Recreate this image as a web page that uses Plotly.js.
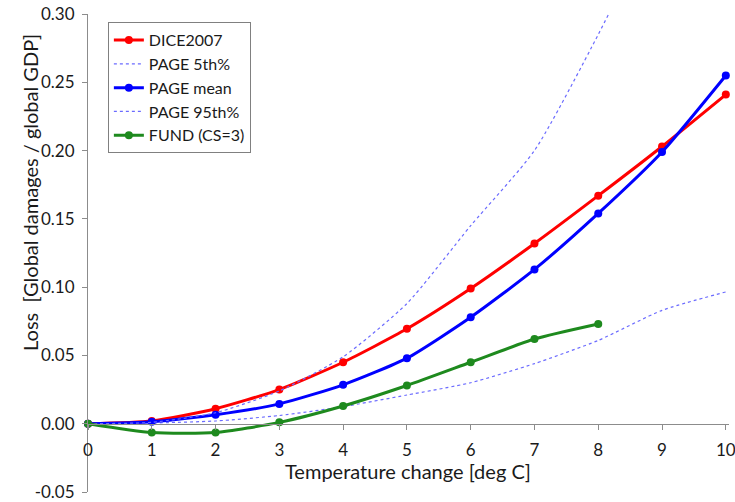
<!DOCTYPE html>
<html>
<head>
<meta charset="utf-8">
<script src="https://cdn.plot.ly/plotly-3.0.1.min.js"></script>
<style>html,body{margin:0;padding:0;background:#fff;}#chart{width:735px;height:502px;}</style>
</head>
<body>
<div id="chart"></div>
<script>
var temps = [0, 1, 2, 3, 4, 5, 6, 7, 8, 9, 10];
var dice2007 = [0, 0.002, 0.011, 0.025, 0.045, 0.0695, 0.099, 0.132, 0.167, 0.203, 0.241];
var page5 = [0, 0.0005, 0.002, 0.006, 0.0125, 0.021, 0.030, 0.044, 0.061, 0.083, 0.0965];
var pageMean = [0, 0.0015, 0.0065, 0.0145, 0.0285, 0.048, 0.078, 0.113, 0.154, 0.199, 0.255];
var page95 = [0, 0.001, 0.008, 0.024, 0.049, 0.088, 0.145, 0.200, 0.285, 0.38, 0.48];
var fundTemps = [0, 1, 2, 3, 4, 5, 6, 7, 8];
var fund = [0, -0.0065, -0.0065, 0.001, 0.013, 0.028, 0.045, 0.062, 0.073];
var yTicks = [-0.05, 0, 0.05, 0.10, 0.15, 0.20, 0.25, 0.30];
var xTicks = [0, 1, 2, 3, 4, 5, 6, 7, 8, 9, 10];

var FONT = 'Lato, "Open Sans", sans-serif';
var dotCol = '#6b6bff';

var traces = [
  {x: temps, y: dice2007, name: 'DICE2007', mode: 'lines+markers',
   line: {color: '#ff0000', width: 3, shape: 'spline', smoothing: 0.6},
   marker: {color: '#ff0000', size: 8}, cliponaxis: false},
  {x: temps, y: page5, name: 'PAGE 5th%', mode: 'lines',
   line: {color: dotCol, width: 1.2, dash: 'dot', shape: 'spline', smoothing: 0.6}},
  {x: temps, y: pageMean, name: 'PAGE mean', mode: 'lines+markers',
   line: {color: '#0000ff', width: 3, shape: 'spline', smoothing: 0.6},
   marker: {color: '#0000ff', size: 8}, cliponaxis: false},
  {x: temps, y: page95, name: 'PAGE 95th%', mode: 'lines',
   line: {color: dotCol, width: 1.2, dash: 'dot', shape: 'spline', smoothing: 0.6}},
  {x: fundTemps, y: fund, name: 'FUND (CS=3)', mode: 'lines+markers',
   line: {color: '#1e8a1e', width: 3, shape: 'spline', smoothing: 0.6},
   marker: {color: '#1e8a1e', size: 8}, cliponaxis: false}
];

var layout = {
  width: 735, height: 502,
  margin: {l: 88, r: 6, t: 14, b: 10},
  paper_bgcolor: '#ffffff', plot_bgcolor: '#ffffff',
  font: {family: FONT, size: 17, color: '#1a1a1a'},
  showlegend: true,
  legend: {x: 0.031, y: 0.983, xanchor: 'left', yanchor: 'top',
           bordercolor: '#808080', borderwidth: 1, bgcolor: '#ffffff',
           font: {family: FONT, size: 16, color: '#1a1a1a'}},
  xaxis: {range: [0, 10.05], anchor: 'free', position: 0.05 / 0.35,
          tickvals: xTicks, ticktext: xTicks.map(String),
          showgrid: false, zeroline: false, showline: true, linecolor: '#8c8c8c', linewidth: 1,
          ticks: 'outside', ticklen: 5, tickcolor: '#8c8c8c', ticklabelstandoff: 6,
          ticklabeloverflow: 'allow',
          tickfont: {family: FONT, size: 17, color: '#1a1a1a'}},
  yaxis: {range: [-0.05, 0.30], tickvals: yTicks, ticktext: yTicks.map(function(v){return v.toFixed(2);}),
          showgrid: false, zeroline: false, showline: true, linecolor: '#8c8c8c', linewidth: 1,
          ticks: 'outside', ticklen: 5, tickcolor: '#8c8c8c', ticklabelstandoff: 4,
          tickfont: {family: FONT, size: 17, color: '#1a1a1a'}},
  annotations: [
    {text: 'Temperature change [deg C]', xref: 'paper', yref: 'paper',
     x: (408 - 88) / 641, y: (492 - 471) / 478, xanchor: 'center', yanchor: 'middle',
     showarrow: false, font: {family: FONT, size: 20, color: '#1a1a1a'}},
    {text: 'Loss  [Global damages / global GDP]', xref: 'paper', yref: 'paper',
     x: (30 - 88) / 641, y: (492 - 193) / 478, xanchor: 'center', yanchor: 'middle',
     textangle: -90, showarrow: false, font: {family: FONT, size: 20, color: '#1a1a1a'}}
  ]
};

Plotly.newPlot('chart', traces, layout, {displayModeBar: false, staticPlot: true});
</script>
</body>
</html>
